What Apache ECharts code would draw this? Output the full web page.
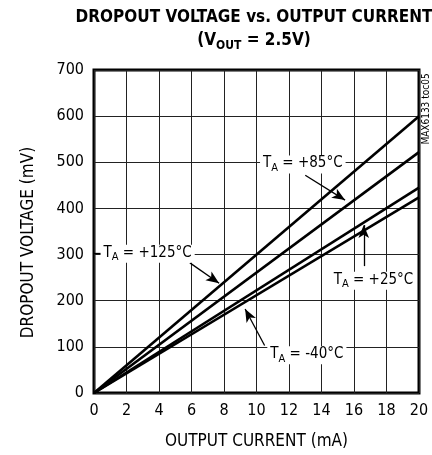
<!DOCTYPE html>
<html>
<head>
<meta charset="utf-8">
<script src="https://cdn.jsdelivr.net/npm/echarts@6/dist/echarts.min.js"></script>
<style>
  html, body { margin: 0; padding: 0; background: #fff; }
  #chart { width: 432px; height: 455px; }
</style>
</head>
<body>
<div id="chart"></div>
<script>
// output current (mA) and dropout voltage (mV) per temperature
const currentMA = [0, 20];
const dropout125 = [0, 600];
const dropout85 = [0, 522];
const dropout25 = [0, 445];
const dropoutM40 = [0, 424];

const seriesNames = ["+125°C", "+85°C", "+25°C", "-40°C"];

// annotation callouts, in axis units: label centre, arrow start, arrow tip
const callouts = [
  { name: "+125°C", label: [3.3, 302], from: [5.9, 282], to: [7.7, 238] },
  { name: "+85°C", label: [12.85, 495], from: [13.0, 472], to: [15.45, 418] },
  { name: "+25°C", label: [17.2, 243], from: [16.6, 275], to: [16.6, 364] },
  { name: "-40°C", label: [13.1, 82], from: [10.5, 103], to: [9.3, 182] },
];

const FONT = "'Liberation Sans Narrow', 'DejaVu Sans Condensed', 'Roboto Condensed', sans-serif";

const chartInstance = echarts.init(document.getElementById("chart"));

const pairs = (ys) => currentMA.map((x, i) => [x, ys[i]]);

const lineSeries = (name, ys) => ({
  name: name,
  type: "line",
  data: pairs(ys),
  showSymbol: false,
  symbol: "none",
  silent: true,
  lineStyle: { color: "#000", width: 2.6 },
  z: 3,
});

const arrowLines = callouts.map((c) => [
  { coord: c.from, symbol: "none" },
  { coord: c.to, symbol: "arrow", symbolSize: [8, 13] },
]);
// little leader dash in front of the +125°C label
arrowLines.push([
  { coord: [0, 302], symbol: "none" },
  { coord: [0.45, 302], symbol: "none" },
]);

const options = {
  animation: false,
  textStyle: { fontFamily: FONT },
  grid: {
    left: 94,
    right: 13,
    top: 70,
    bottom: 60,
    show: true,
    borderColor: "#000",
    borderWidth: 3,
    backgroundColor: "transparent",
  },
  xAxis: {
    type: "value",
    min: 0,
    max: 20,
    interval: 2,
    name: "OUTPUT CURRENT (mA)",
    nameLocation: "middle",
    nameGap: 40,
    nameTextStyle: { color: "#000", fontSize: 17, fontFamily: FONT },
    axisLine: { show: false },
    axisTick: { show: false },
    axisLabel: { color: "#000", fontSize: 16, margin: 10, fontFamily: FONT },
    splitLine: { show: true, lineStyle: { color: "#222", width: 1 } },
  },
  yAxis: {
    type: "value",
    min: 0,
    max: 700,
    interval: 100,
    name: "DROPOUT VOLTAGE (mV)",
    nameLocation: "middle",
    nameGap: 57,
    nameTextStyle: { color: "#000", fontSize: 17, fontFamily: FONT, padding: [0, 22, 0, 0] },
    axisLine: { show: false },
    axisTick: { show: false },
    axisLabel: { color: "#000", fontSize: 16, margin: 10, fontFamily: FONT },
    splitLine: { show: true, lineStyle: { color: "#222", width: 1 } },
  },
  series: [
    lineSeries(seriesNames[0], dropout125),
    lineSeries(seriesNames[1], dropout85),
    lineSeries(seriesNames[2], dropout25),
    lineSeries(seriesNames[3], dropoutM40),
    {
      name: "callouts",
      type: "line",
      data: [],
      silent: true,
      z: 5,
      markLine: {
        silent: true,
        animation: false,
        symbol: ["none", "arrow"],
        symbolSize: 11,
        label: { show: false },
        lineStyle: { color: "#000", width: 1.3, type: "solid" },
        data: arrowLines,
      },
      markPoint: {
        silent: true,
        animation: false,
        symbolSize: 0,
        label: {
          show: true,
          position: "inside",
          color: "#000",
          backgroundColor: "#fff",
          padding: [2, 3, 0, 3],
          formatter: (p) => "{t|T}{s|A}{t| = " + p.name + "}",
          rich: {
            t: { fontSize: 15, fontFamily: FONT, color: "#000", lineHeight: 16, padding: [0, 0, 4, 0] },
            s: { fontSize: 11, fontFamily: FONT, color: "#000", lineHeight: 12, verticalAlign: "bottom" },
          },
        },
        data: callouts.map((c) => ({ name: c.name, coord: c.label })),
      },
    },
  ],
  graphic: [
    {
      type: "text",
      x: 254,
      y: 18,
      style: {
        text: "DROPOUT VOLTAGE vs. OUTPUT CURRENT",
        font: "bold 17px " + FONT,
        fill: "#000",
        align: "center",
        verticalAlign: "middle",
      },
    },
    {
      type: "text",
      x: 254,
      y: 43,
      style: {
        text: "{b|(V}{s|OUT}{b| = 2.5V)}",
        fill: "#000",
        align: "center",
        verticalAlign: "middle",
        rich: {
          b: { font: "bold 17px " + FONT, lineHeight: 18, padding: [0, 0, 4, 0] },
          s: { font: "bold 12px " + FONT, lineHeight: 13, verticalAlign: "bottom" },
        },
      },
    },
    {
      type: "text",
      x: 426,
      y: 109,
      rotation: Math.PI / 2,
      style: {
        text: "MAX6133 toc05",
        font: "10px " + FONT,
        fill: "#000",
        align: "center",
        verticalAlign: "middle",
      },
    },
  ],
};

chartInstance.setOption(options);
window.addEventListener("resize", () => {
  chartInstance.resize();
});
</script>
</body>
</html>
